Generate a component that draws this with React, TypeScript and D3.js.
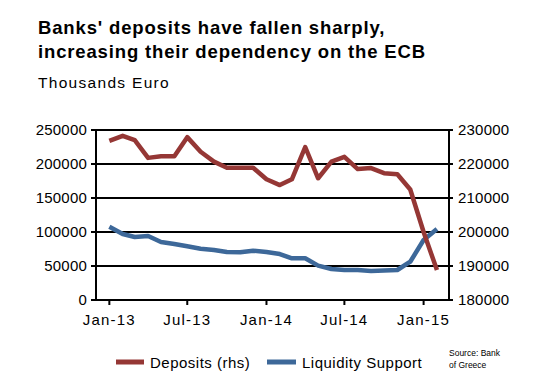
import React from 'react';
import * as d3 from 'd3';

// monthly, Jan-13 .. Feb-15
const months = [
    '2013-01', '2013-02', '2013-03', '2013-04', '2013-05', '2013-06', '2013-07', '2013-08', '2013-09',
    '2013-10', '2013-11', '2013-12', '2014-01', '2014-02', '2014-03', '2014-04', '2014-05', '2014-06',
    '2014-07', '2014-08', '2014-09', '2014-10', '2014-11', '2014-12', '2015-01', '2015-02',
];
const deposits = [
    226800, 228300, 227000, 221800, 222300, 222300, 227900, 223600, 220700,
    218900, 218900, 218900, 215500, 213800, 215500, 225000, 215800, 220700,
    222100, 218500, 218800, 217300, 217000, 212500, 200000, 188800,
];
const liquidity = [
    107800, 97000, 92600, 94100, 85300, 82400, 79000, 75500, 73500,
    70600, 70100, 72500, 70600, 67600, 61300, 61300, 50500, 45600,
    44100, 44100, 42600, 43500, 44100, 56300, 88200, 104400,
];
const leftTicks = [0, 50000, 100000, 150000, 200000, 250000];
const rightTicks = [180000, 190000, 200000, 210000, 220000, 230000];
const xTicks = ['2013-01', '2013-07', '2014-01', '2014-07', '2015-01'];

const RED = '#953735';
const BLUE = '#3d6899';
const FONT = 'Liberation Sans, Arial, sans-serif';

const parse = d3.timeParse('%Y-%m');

export default function App() {
    const width = 546;
    const height = 391;
    const left = 96, right = 449, top = 130, bottom = 300;

    const x = d3.scaleTime()
        .domain([parse('2012-12')!, parse('2015-03')!])
        .range([left, right]);
    const yL = d3.scaleLinear().domain([0, 250000]).range([bottom, top]);
    const yR = d3.scaleLinear().domain([180000, 230000]).range([bottom, top]);
    const fmt = d3.timeFormat('%b-%y');

    const dates = months.map(m => parse(m)!);
    const depLine = d3.line<number>().x((_, i) => x(dates[i])).y(d => yR(d));
    const liqLine = d3.line<number>().x((_, i) => x(dates[i])).y(d => yL(d));

    return (
        <svg width={width} height={height} style={{ position: 'absolute', left: 0, top: 0 }}
            fontFamily={FONT}>
            <rect width={width} height={height} fill="#fff" />
            <text x={38} y={34} fontSize={18.5} fontWeight="bold" letterSpacing={0.85}>Banks' deposits have fallen sharply,</text>
            <text x={38} y={58} fontSize={18.5} fontWeight="bold" letterSpacing={0.85}>increasing their dependency on the ECB</text>
            <text x={38} y={88} fontSize={15.5} letterSpacing={1.3}>Thousands Euro</text>

            {/* gridlines + left ticks */}
            {leftTicks.map(t => (
                <g key={t}>
                    <line x1={left - 5} x2={right + 4} y1={yL(t)} y2={yL(t)} stroke="#000" strokeWidth={2} />
                    <text x={87} y={yL(t) + 5} fontSize={15} textAnchor="end" letterSpacing={0.2}>{t}</text>
                </g>
            ))}
            {rightTicks.map(t => (
                <text key={t} x={458} y={yR(t) + 5} fontSize={15} letterSpacing={0.2}>{t}</text>
            ))}
            <line x1={left} x2={left} y1={top} y2={bottom + 1} stroke="#000" strokeWidth={2} />
            <line x1={right} x2={right} y1={top} y2={bottom + 1} stroke="#000" strokeWidth={2} />
            {xTicks.map(t => {
                const d = parse(t)!;
                return (
                    <g key={t}>
                        <line x1={x(d)} x2={x(d)} y1={bottom} y2={bottom + 5} stroke="#000" strokeWidth={2} />
                        <text x={x(d)} y={325} fontSize={15} textAnchor="middle" letterSpacing={1.2}>{fmt(d)}</text>
                    </g>
                );
            })}

            <path d={liqLine(liquidity)!} fill="none" stroke={BLUE} strokeWidth={4.5} strokeLinejoin="round" />
            <path d={depLine(deposits)!} fill="none" stroke={RED} strokeWidth={4.5} strokeLinejoin="round" />

            {/* legend */}
            <line x1={116} x2={144} y1={362} y2={362} stroke={RED} strokeWidth={5} />
            <text x={150} y={368} fontSize={15} letterSpacing={0.5}>Deposits (rhs)</text>
            <line x1={267} x2={296} y1={362} y2={362} stroke={BLUE} strokeWidth={5} />
            <text x={302} y={368} fontSize={15} letterSpacing={0.5}>Liquidity Support</text>
            <text x={449} y={356} fontSize={8.5}>Source:  Bank</text>
            <text x={449} y={368} fontSize={8.5}>of Greece</text>
        </svg>
    );
}
